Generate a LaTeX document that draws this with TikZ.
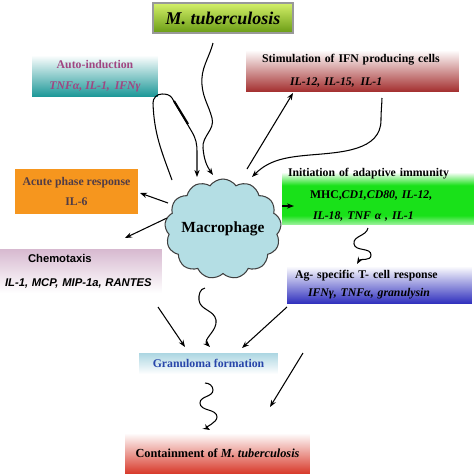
\documentclass[tikz,border=0pt]{standalone}
\usepackage{fontspec}
\setmainfont{Liberation Serif}
\newfontfamily\arialfont{Liberation Sans}
\usetikzlibrary{shapes.symbols,arrows.meta}
\definecolor{mtbtop}{RGB}{212,240,105}
\definecolor{mtbbot}{RGB}{105,155,20}
\definecolor{teal2}{RGB}{25,150,150}
\definecolor{wine}{RGB}{165,50,50}
\definecolor{orng}{RGB}{246,150,30}
\definecolor{brgreen}{RGB}{25,225,25}
\definecolor{mauve}{RGB}{215,185,208}
\definecolor{royal}{RGB}{50,50,190}
\definecolor{paleblue}{RGB}{172,214,226}
\definecolor{brick}{RGB}{215,55,40}
\definecolor{cloudfill}{RGB}{180,222,228}
\definecolor{purptext}{RGB}{160,70,130}
\definecolor{granblue}{RGB}{40,70,170}
\pgfdeclareverticalshading{greenband}{100bp}{color(0bp)=(brgreen!40); color(25bp)=(brgreen!40);
  color(33bp)=(brgreen); color(58bp)=(brgreen); color(69bp)=(white); color(100bp)=(white)}
\tikzset{
  box/.style={inner sep=0pt, font=\bfseries\fontsize{6.7}{12}\selectfont, align=center},
  arr/.style={-{Stealth[length=4pt,width=3pt]}, line width=0.6pt},
}
\begin{document}
\begin{tikzpicture}[x=0.02cm,y=-0.02cm]
\useasboundingbox (0,0) rectangle (474,474);
% boxes
\node[box, draw=gray!80, line width=0.8pt, top color=mtbtop, bottom color=mtbbot,
  minimum width=2.8cm, minimum height=0.6cm, font=\bfseries\itshape\fontsize{10.2}{12}\selectfont]
  (mtb) at (223,18) {M. tuberculosis};
\node[box, top color=white, bottom color=teal2, minimum width=2.52cm, minimum height=0.84cm,
  text=purptext, font=\bfseries\fontsize{6.7}{11.9}\selectfont]
  (auto) at (95,76) {Auto-induction\\\itshape TNFα, IL-1,\, IFNγ};
\node[box, top color=white, bottom color=wine, inner xsep=0.32cm, text width=3.62cm, align=left,
  minimum height=0.82cm, font=\bfseries\fontsize{6.7}{13}\selectfont]
  (stim) at (352.5,70.5) {Stimulation of IFN producing cells\\\hspace*{0.56cm}\itshape IL-12, IL-15,\, IL-1};
\node[box, fill=orng, minimum width=2.46cm, minimum height=0.9cm, text={rgb,255:red,80;green,60;blue,70},
  font=\bfseries\fontsize{6.7}{11.9}\selectfont]
  (acute) at (76.5,191.5) {Acute phase response\\IL-6};
\node[box, shading=greenband, inner xsep=0.12cm, text width=3.6cm,
  align=left, minimum height=1.2cm, font=\bfseries\fontsize{6.7}{12.2}\selectfont]
  (init) at (378,195) {Initiation of adaptive immunity\\
  \hspace*{0.44cm}MHC,\itshape CD1,CD80, IL-12,\\\hspace*{0.5cm}\itshape IL-18, TNF α , IL-1};
\node[box, top color=mauve, bottom color=white, inner xsep=0.1cm, text width=3.04cm, align=left,
  minimum height=0.88cm, font=\arialfont\bfseries\fontsize{6.4}{13.6}\selectfont]
  (chemo) at (81,271) {\hspace*{0.46cm}Chemotaxis\\\itshape IL-1, MCP, MIP-1a, RANTES};
\node[box, top color=white, bottom color=royal, inner xsep=0.16cm, text width=3.38cm, align=left,
  minimum height=0.74cm, font=\bfseries\fontsize{6.7}{10.2}\selectfont]
  (ag) at (379.5,284.5) {Ag- specific T- cell response\\\hspace*{0.26cm}\itshape IFNγ, TNFα, granulysin};
\node[box, top color=paleblue, bottom color=white, minimum width=2.78cm, minimum height=0.42cm,
  text=granblue] (gran) at (208.5,363.5) {Granuloma formation};
\node[box, top color=white, bottom color=brick, minimum width=3.7cm, minimum height=0.82cm,
  font=\bfseries\fontsize{7}{12}\selectfont] (cont) at (217.5,453.5) {Containment of \textit{M. tuberculosis}};
% macrophage
\node[cloud, cloud puffs=13, cloud puff arc=110, cloud ignores aspect, fill=cloudfill, draw=black!75,
  line width=0.6pt, minimum width=2.26cm, minimum height=2cm, inner sep=0pt,
  font=\bfseries\fontsize{8.8}{10}\selectfont] (mac) at (223,229) {Macrophage};
% free ends
\coordinate (mtbw) at (213,43);
\coordinate (macA) at (213,175);
\coordinate (loopA) at (172,180);
\coordinate (macB) at (197,177);
\coordinate (macC) at (247,169);
\coordinate (stimA) at (293,93);
\coordinate (stimw) at (382,98);
\coordinate (macD) at (252,177);
\coordinate (acuteA) at (168,203);
\coordinate (acuteB) at (140,193);
\coordinate (chemoA) at (167,218);
\coordinate (chemoB) at (125,238);
\coordinate (initA) at (282,206);
\coordinate (initB) at (294,206);
\coordinate (initw) at (368,228);
\coordinate (agA) at (357,264);
\coordinate (macw) at (205,288);
\coordinate (granA) at (210,347);
\coordinate (chemoC) at (158,307);
\coordinate (granB) at (185,347);
\coordinate (agB) at (287,307);
\coordinate (granC) at (242,348);
\coordinate (granw) at (205,383);
\coordinate (contA) at (210,430);
\coordinate (sideA) at (303,353);
\coordinate (sideB) at (270,407);
% connectors
\draw[arr] (mtbw) to[out=-105,in=95] (202,85) to[out=-85,in=105] (212,118)
  to[out=-75,in=95] (203,148) to[out=-85,in=125] (macA);
\draw[arr] (loopA) to[out=110,in=-88] (153,103) to[out=92,in=180] (162,94) to[out=0,in=125] (172,98)
  -- (192,132) to[out=-60,in=90] (197,152) -- (macB);
\draw[line width=1.2pt] (174,101) -- (188,124);
\draw[arr] (macC) -- (stimA);
\draw[arr] (stimw) to[out=-92,in=90] (381,120) to[out=-90,in=5] (310,155) to[out=185,in=45] (macD);
\draw[arr] (acuteA) -- (acuteB);
\draw[arr] (chemoA) -- (chemoB);
\draw[arr] (initA) -- (initB);
\draw[arr] (initw) to[out=-100,in=100] (354,244) to[out=-80,in=90] (371,255) to[out=-90,in=60] (agA);
\draw[arr] (macw) to[out=190,in=95] (199,300) to[out=-85,in=100] (216,320) to[out=-80,in=135] (granA);
\draw[arr] (chemoC) -- (granB);
\draw[arr] (agB) -- (granC);
\draw[arr] (granw) to[out=0,in=90] (213,390) to[out=-90,in=90] (200,403) to[out=-90,in=90] (217,417)
  to[out=-90,in=150] (contA);
\draw[arr] (sideA) -- (sideB);
\end{tikzpicture}
\end{document}
